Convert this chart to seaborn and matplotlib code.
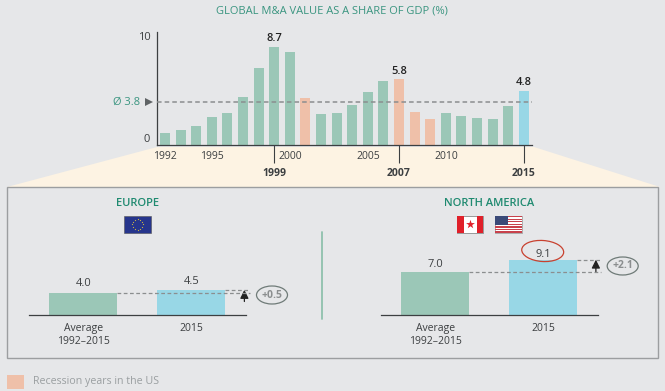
import numpy as np
import pandas as pd
import matplotlib
matplotlib.use('Agg')
import matplotlib.pyplot as plt
import seaborn as sns
from matplotlib.patches import Rectangle, Polygon, Ellipse

# data
years = [str(y) for y in range(1992, 2016)]
share = [1.05, 1.29, 1.64, 2.46, 2.84, 4.28, 6.8, 8.7, 8.27, 4.16, 2.73, 2.8,
         3.5, 4.66, 5.7, 5.8, 2.96, 2.29, 2.84, 2.6, 2.37, 2.26, 3.46, 4.8]
recession = ['2001', '2007', '2008', '2009']
highlight = ['2015']
avg_share = 3.8
peak_years = ['1999', '2007', '2015']
plain_ticks = ['1992', '1995', '2000', '2005', '2010']

region_cats = ['Average\n1992\u20132015', '2015']
europe_vals = [4.0, 4.5]
namerica_vals = [7.0, 9.1]
europe_delta = '+0.5'
namerica_delta = '+2.1'

GREEN = '#9bc7b7'
SALMON = '#efc0a9'
BLUE = '#98d7e6'
BG = '#e6e7e9'
CREAM = '#fdf3e3'
TEAL = '#3a9580'
DARK = '#3c3f41'
GREY = '#8b8e8f'

W, H = 665, 391

sns.set_theme(style='white')
plt.rcParams['font.family'] = ['Open Sans', 'DejaVu Sans']


def px_axes(fig, left, top, right, bottom, **kw):
    return fig.add_axes([left / W, 1 - bottom / H, (right - left) / W, (bottom - top) / H], **kw)


fig = plt.figure(figsize=(W / 100, H / 100), dpi=100, facecolor=BG)

# background layer in pixel coords
bg = px_axes(fig, 0, 0, W, H, zorder=0)
bg.set_xlim(0, W)
bg.set_ylim(H, 0)
bg.axis('off')
bg.add_patch(Polygon([(157, 147), (534, 147), (660, 187), (7, 187)], fc=CREAM, ec='none'))
bg.add_patch(Rectangle((6.5, 187), 651.5, 171, fc=BG, ec='#9c9ea0', lw=1))
bg.plot([321.7, 321.7], [232, 319], color='#8fc1ad', lw=1.3)

# main chart
df = pd.DataFrame({'year': years, 'share': share})
df['kind'] = ['rec' if y in recession else 'now' if y in highlight else 'base' for y in years]
ax = px_axes(fig, 157.3, 32, 531.7, 145, zorder=2)
ax.patch.set_alpha(0)
sns.barplot(data=df, x='year', y='share', hue='kind', order=years, dodge=False, width=0.64,
            saturation=1, linewidth=0,
            palette={'base': GREEN, 'rec': SALMON, 'now': BLUE}, legend=False, ax=ax)
ax.set_xlim(-0.49, 23.5)
ax.set_ylim(0, 10)
ax.set_xlabel('')
ax.set_ylabel('')
ax.axhline(avg_share, color=GREY, lw=1.1, ls=(0, (3, 2)), zorder=5)
ax.set_yticks([0, 10])
ax.tick_params(axis='y', length=0, pad=5, labelsize=8, labelcolor=DARK)
ylabs = ax.get_yticklabels()
ylabs[0].set_va('bottom')
ylabs[1].set_va('top')
ax.set_xticks([years.index(y) for y in plain_ticks], plain_ticks)
ax.tick_params(axis='x', which='major', length=0, pad=4, labelsize=7.5, labelcolor=DARK)
ax.set_xticks([years.index(y) for y in peak_years], peak_years, minor=True)
ax.tick_params(axis='x', which='minor', length=13, width=0.8, color=DARK, pad=3.7,
               labelsize=7.5, labelcolor=DARK, bottom=True)
for lab in ax.get_xticklabels(minor=True):
    lab.set_fontweight('bold')
for y in peak_years:
    i = years.index(y)
    ax.text(i, share[i] + 0.25, f'{share[i]:.1f}', ha='center', va='bottom', fontsize=8,
            fontweight='semibold', color='#222222')
sns.despine(ax=ax)
for s in ['left', 'bottom']:
    ax.spines[s].set_color(DARK)
    ax.spines[s].set_linewidth(0.9)


def region(left, right, vals, ymax, label_gap, arrow_from):
    a = px_axes(fig, left, 314.7 - ymax[1], right, 314.7, zorder=2)
    a.patch.set_alpha(0)
    d = pd.DataFrame({'cat': region_cats, 'val': vals})
    sns.barplot(data=d, x='cat', y='val', hue='cat', order=region_cats, dodge=False, width=0.63,
                saturation=1, linewidth=0, palette=[GREEN, BLUE], legend=False, ax=a)
    a.set_xlim(-0.503, 1.505)
    a.set_ylim(0, ymax[0])
    a.set_xlabel('')
    a.set_ylabel('')
    a.set_yticks([])
    a.tick_params(axis='x', length=0, pad=6, labelsize=7.5, labelcolor=DARK)
    for i, v in enumerate(vals):
        a.annotate(f'{v:.1f}', (i, v), xytext=(0, label_gap[i] * 0.72), textcoords='offset points',
                   ha='center', va='center', fontsize=8, color=DARK)
    sns.despine(ax=a, left=True)
    a.spines['bottom'].set_color(DARK)
    a.spines['bottom'].set_linewidth(0.9)
    # guide lines up to the arrow
    a.plot([0.315, 1.54], [vals[0], vals[0]], color=GREY, lw=0.9, ls=(0, (3, 2)), clip_on=False, zorder=5)
    a.plot([1.315, 1.54], [vals[1], vals[1]], color=GREY, lw=0.9, ls=(0, (3, 2)), clip_on=False, zorder=5)
    a.annotate('', xy=(1.49, vals[1]), xytext=(1.49, arrow_from),
               arrowprops=dict(arrowstyle='-|>,head_width=0.25,head_length=0.5', color='#222222', lw=0.9,
                               mutation_scale=10, shrinkA=0, shrinkB=0), annotation_clip=False)
    return a


region(29, 246, europe_vals, (10, 55), [8.7, 8.4], 2.4)
region(381, 597.5, namerica_vals, (11, 66.5), [7.7, 5], 7.0)

# foreground layer: titles, flags, ovals, legend
fg = px_axes(fig, 0, 0, W, H, zorder=3)
fg.patch.set_alpha(0)
fg.set_xlim(0, W)
fg.set_ylim(H, 0)
fg.axis('off')

fg.text(332, 11, 'GLOBAL M&A VALUE AS A SHARE OF GDP (%)', color=TEAL, fontsize=8, ha='center', va='center')
fg.text(137.7, 204, 'EUROPE', color='#1f8a70', fontsize=8, fontweight='semibold', ha='center', va='center')
fg.text(489.3, 204, 'NORTH AMERICA', color='#1f8a70', fontsize=8, fontweight='semibold', ha='center', va='center')

fg.text(140, 102, '\u00d8 3.8', color=TEAL, fontsize=8, ha='right', va='center')
fg.add_patch(Polygon([(145, 98), (145, 106), (153, 102)], fc='#5f6365', ec='none'))

# EU flag
fg.add_patch(Rectangle((124.3, 216), 26.4, 16.7, fc='#26358c', ec='#555555', lw=0.4))
t = np.linspace(0, 2 * np.pi, 12, endpoint=False)
fg.scatter(137.5 + 5.2 * np.cos(t), 224.3 + 5.2 * np.sin(t), s=0.8, color='#c9b347', lw=0)

# Canada flag
fg.add_patch(Rectangle((457, 216), 26.3, 16.7, fc='white', ec='#555555', lw=0.4))
fg.add_patch(Rectangle((457, 216), 6.6, 16.7, fc='#e0202a', ec='none'))
fg.add_patch(Rectangle((476.7, 216), 6.6, 16.7, fc='#e0202a', ec='none'))
fg.scatter([470.2], [224], marker='*', s=45, color='#e0202a', lw=0)

# US flag
fg.add_patch(Rectangle((495.3, 216), 26.4, 16.7, fc='white', ec='#777777', lw=0.4))
for k in range(0, 13, 2):
    fg.add_patch(Rectangle((495.3, 216 + k * 16.7 / 13), 26.4, 16.7 / 13, fc='#c8424c', ec='none'))
fg.add_patch(Rectangle((495.3, 216), 12.5, 9, fc='#3a4a78', ec='none'))

# delta ovals
fg.add_patch(Ellipse((272, 295), 31, 18, fc='none', ec='#6f7b78', lw=0.9))
fg.text(272, 295, europe_delta, color=GREY, fontsize=7.5, fontweight='bold', ha='center', va='center')
fg.add_patch(Ellipse((622.7, 266), 31, 18, fc='none', ec='#6f7b78', lw=0.9))
fg.text(622.7, 266, namerica_delta, color=GREY, fontsize=7.5, fontweight='bold', ha='center', va='center')
fg.add_patch(Ellipse((542.7, 251), 42, 21, angle=4, fc='none', ec='#c8412f', lw=0.9))

# legend
fg.add_patch(Rectangle((6.7, 375), 17.3, 14, fc=SALMON, ec='none'))
fg.text(33, 381.5, 'Recession years in the US', color='#9a9fa1', fontsize=7.7, ha='left', va='center')

fig.savefig('out.png', dpi=100, facecolor=BG)
